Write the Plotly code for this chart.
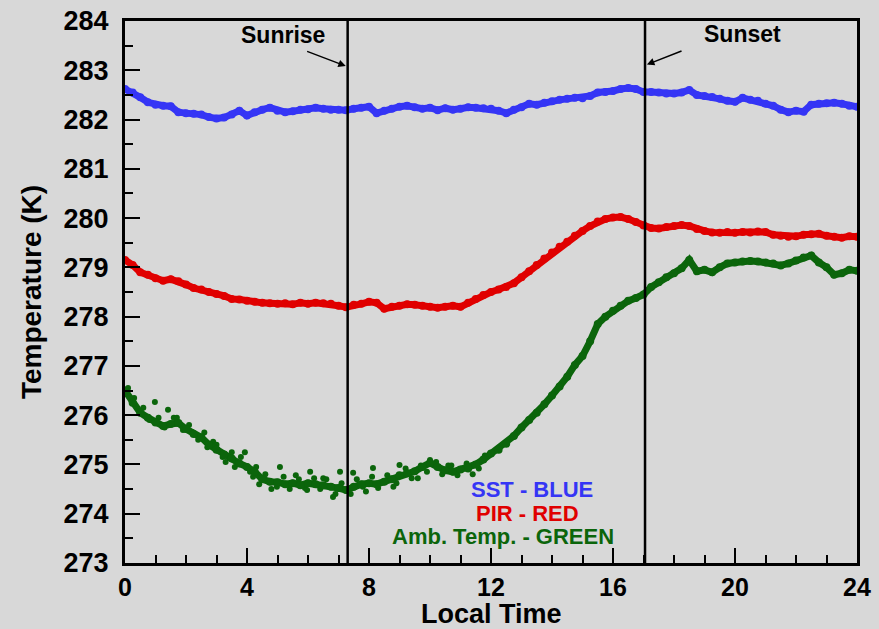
import plotly.graph_objects as go

hours = [0.0, 0.25, 0.5, 0.75, 1.0, 1.25, 1.5, 1.75, 2.0, 2.25, 2.5, 2.75, 3.0, 3.25, 3.5, 3.75,
         4.0, 4.25, 4.5, 4.75, 5.0, 5.25, 5.5, 5.75, 6.0, 6.25, 6.5, 6.75, 7.0, 7.25, 7.5, 7.75,
         8.0, 8.25, 8.5, 8.75, 9.0, 9.25, 9.5, 9.75, 10.0, 10.25, 10.5, 10.75, 11.0, 11.25, 11.5, 11.75,
         12.0, 12.25, 12.5, 12.75, 13.0, 13.25, 13.5, 13.75, 14.0, 14.25, 14.5, 14.75, 15.0, 15.25, 15.5, 15.75,
         16.0, 16.25, 16.5, 16.75, 17.0, 17.25, 17.5, 17.75, 18.0, 18.25, 18.5, 18.75, 19.0, 19.25, 19.5, 19.75,
         20.0, 20.25, 20.5, 20.75, 21.0, 21.25, 21.5, 21.75, 22.0, 22.25, 22.5, 22.75, 23.0, 23.25, 23.5, 23.75, 24.0]

sst_blue = [282.62, 282.55, 282.45, 282.35, 282.30, 282.28, 282.27, 282.15, 282.13, 282.12, 282.10, 282.05, 282.02, 282.04, 282.10, 282.18,
            282.08, 282.15, 282.20, 282.24, 282.18, 282.15, 282.17, 282.20, 282.21, 282.24, 282.22, 282.20, 282.20, 282.19, 282.22, 282.24,
            282.26, 282.13, 282.18, 282.22, 282.26, 282.28, 282.25, 282.22, 282.24, 282.19, 282.23, 282.20, 282.22, 282.25, 282.24, 282.23,
            282.22, 282.18, 282.13, 282.20, 282.25, 282.32, 282.30, 282.34, 282.37, 282.40, 282.42, 282.44, 282.43, 282.48, 282.55, 282.56,
            282.58, 282.62, 282.64, 282.62, 282.56, 282.56, 282.55, 282.53, 282.53, 282.55, 282.60, 282.50, 282.48, 282.46, 282.42, 282.38,
            282.36, 282.44, 282.40, 282.38, 282.32, 282.28, 282.20, 282.15, 282.18, 282.16, 282.30, 282.32, 282.33, 282.34, 282.32, 282.28, 282.26]

pir_red = [279.15, 279.05, 278.90, 278.85, 278.78, 278.73, 278.76, 278.72, 278.65, 278.58, 278.55, 278.50, 278.46, 278.42, 278.36, 278.35,
           278.32, 278.30, 278.28, 278.27, 278.26, 278.27, 278.25, 278.28, 278.26, 278.28, 278.27, 278.26, 278.22, 278.19, 278.24, 278.26,
           278.30, 278.28, 278.16, 278.20, 278.22, 278.25, 278.24, 278.22, 278.20, 278.18, 278.20, 278.22, 278.20, 278.28, 278.36, 278.44,
           278.50, 278.55, 278.60, 278.68, 278.80, 278.92, 279.05, 279.18, 279.30, 279.42, 279.52, 279.64, 279.74, 279.84, 279.93, 279.98,
           280.01, 280.02, 279.98, 279.92, 279.85, 279.80, 279.79, 279.82, 279.84, 279.86, 279.84, 279.78, 279.74, 279.71, 279.70, 279.72,
           279.70, 279.72, 279.71, 279.73, 279.72, 279.66, 279.64, 279.62, 279.63, 279.66, 279.67, 279.68, 279.64, 279.62, 279.60, 279.63, 279.62]

amb_green = [276.50, 276.25, 276.05, 275.95, 275.85, 275.78, 275.82, 275.84, 275.72, 275.62, 275.55, 275.40, 275.30, 275.20, 275.12, 275.02,
             274.95, 274.85, 274.70, 274.65, 274.64, 274.60, 274.62, 274.58, 274.62, 274.60, 274.58, 274.55, 274.52, 274.48, 274.55, 274.60,
             274.62, 274.60, 274.65, 274.70, 274.78, 274.82, 274.86, 274.95, 275.03, 274.95, 274.88, 274.85, 274.90, 274.92, 275.00, 275.10,
             275.22, 275.30, 275.42, 275.58, 275.75, 275.90, 276.05, 276.22, 276.40, 276.58, 276.78, 277.02, 277.20, 277.50, 277.85, 278.00,
             278.12, 278.22, 278.32, 278.38, 278.45, 278.60, 278.70, 278.80, 278.88, 278.98, 279.15, 278.92, 278.95, 278.90, 279.00, 279.08,
             279.10, 279.12, 279.13, 279.12, 279.10, 279.08, 279.04, 279.08, 279.14, 279.20, 279.24, 279.10, 279.00, 278.85, 278.88, 278.95, 278.93]

# scattered ambient readings off the main band (night / morning)
amb_extra_t = [0.1, 0.3, 0.6, 0.8, 0.98, 1.1, 1.3, 1.41, 1.6, 1.7, 1.9, 2.1, 2.2, 2.4, 2.6, 2.7, 2.89, 3.0, 3.2, 3.3, 3.5,
               3.6, 3.8, 3.93, 4.1, 4.2, 4.3, 4.4, 4.6, 4.8, 4.98, 5.08, 5.2, 5.4, 5.6, 5.7, 5.9, 5.97, 6.07, 6.2, 6.4,
               6.5, 6.6, 6.82, 6.9, 7.05, 7.1, 7.4, 7.48, 7.6, 7.8, 7.9, 8.1, 8.13, 8.3, 8.6, 8.8, 8.9, 9.0, 9.2, 9.4,
               9.6, 9.7, 9.9, 10.0, 10.2, 10.4, 10.6, 10.7, 10.9, 11.2, 11.4, 11.6, 11.8]
amb_extra_v = [276.55, 276.35, 276.15, 275.90, 276.27, 275.95, 275.75, 276.11, 275.95, 275.95, 275.70, 275.80, 275.66, 275.50, 275.65, 275.35, 275.46, 275.40, 275.15, 275.05, 275.25,
               274.95, 275.15, 275.25, 274.85, 274.75, 274.95, 274.60, 274.80, 274.50, 274.55, 274.95, 274.75, 274.50, 274.78, 274.70, 274.52, 274.48, 274.85, 274.72, 274.50,
               274.72, 274.70, 274.34, 274.40, 274.85, 274.62, 274.40, 274.83, 274.70, 274.55, 274.45, 274.75, 274.93, 274.52, 274.78, 274.55, 274.62, 274.99, 274.92, 274.72,
               274.72, 274.98, 274.85, 275.09, 275.05, 274.80, 274.98, 274.98, 274.78, 275.02, 274.80, 274.92, 275.18]

sunrise_t = 7.3
sunset_t = 17.05

bg = "#d8d8d8"
blue = "#3535f5"
red = "#e00000"
green = "#0b650b"
font_fam = "Liberation Sans, Arial, Helvetica, sans-serif"

fig = go.Figure()
fig.add_trace(go.Scatter(x=amb_extra_t, y=amb_extra_v, mode="markers",
                         marker=dict(color=green, size=6), showlegend=False))
fig.add_trace(go.Scatter(x=hours, y=amb_green, mode="lines+markers",
                         line=dict(color=green, width=7), marker=dict(color=green, size=8), showlegend=False))
fig.add_trace(go.Scatter(x=hours, y=pir_red, mode="lines+markers",
                         line=dict(color=red, width=7), marker=dict(color=red, size=8), showlegend=False))
fig.add_trace(go.Scatter(x=hours, y=sst_blue, mode="lines+markers",
                         line=dict(color=blue, width=7), marker=dict(color=blue, size=8), showlegend=False))

for t in (sunrise_t, sunset_t):
    fig.add_shape(type="line", x0=t, x1=t, y0=273, y1=284, xref="x", yref="y",
                  line=dict(color="black", width=2.5))

fig.add_annotation(x=sunrise_t, y=283.07, ax=-42, ay=-16, text="", showarrow=True,
                   arrowhead=2, arrowsize=1, arrowwidth=1.5, arrowcolor="black", standoff=2)
fig.add_annotation(x=sunset_t, y=283.1, ax=38, ay=-15, text="", showarrow=True,
                   arrowhead=2, arrowsize=1, arrowwidth=1.5, arrowcolor="black", standoff=2)
fig.add_annotation(x=5.18, y=283.72, text="<b>Sunrise</b>", showarrow=False,
                   font=dict(family=font_fam, size=23, color="black"))
fig.add_annotation(x=20.26, y=283.74, text="<b>Sunset</b>", showarrow=False,
                   font=dict(family=font_fam, size=23, color="black"))

fig.add_annotation(x=13.34, y=274.5, text="<b>SST - BLUE</b>", showarrow=False,
                   font=dict(family=font_fam, size=22, color=blue))
fig.add_annotation(x=13.2, y=274.0, text="<b>PIR - RED</b>", showarrow=False,
                   font=dict(family=font_fam, size=22, color=red))
fig.add_annotation(x=12.4, y=273.53, text="<b>Amb. Temp. - GREEN</b>", showarrow=False,
                   font=dict(family=font_fam, size=22, color=green))

# x-axis title placed as a paper-anchored annotation below the tick labels
fig.add_annotation(x=0.5, y=0, xref="paper", yref="paper", yshift=-51, yanchor="middle",
                   text="<b>Local Time</b>", showarrow=False,
                   font=dict(family=font_fam, size=27, color="black"))

axis_common = dict(showline=True, linecolor="black", linewidth=3, mirror=True,
                   ticks="inside", tickcolor="black", tickwidth=2, ticklen=15,
                   showgrid=False, zeroline=False)

fig.update_xaxes(range=[0, 24], tickmode="linear", tick0=0, dtick=4,
                 minor=dict(ticks="inside", ticklen=8, tickwidth=1.5, tickcolor="black", dtick=1, showgrid=False),
                 tickfont=dict(family=font_fam, size=25, color="black", weight="bold"),
                 ticklabelstandoff=0,
                 **axis_common)
fig.update_yaxes(range=[273, 284], tickmode="linear", tick0=273, dtick=1,
                 minor=dict(ticks="inside", ticklen=8, tickwidth=1.5, tickcolor="black", dtick=0.5, showgrid=False),
                 tickfont=dict(family=font_fam, size=27, color="black", weight="bold"),
                 title=dict(text="<b>Temperature (K)</b>", font=dict(family=font_fam, size=28, color="black"), standoff=14),
                 ticklabelstandoff=8,
                 **axis_common)

fig.update_layout(width=879, height=629, paper_bgcolor=bg, plot_bgcolor=bg,
                  margin=dict(l=125, r=22, t=21, b=66, autoexpand=False), showlegend=False)

fig.write_html("out.html", config={"displayModeBar": False},
               post_script="document.body.style.margin='0px';document.body.style.padding='0px';"
                           "document.body.style.background='" + bg + "';")
